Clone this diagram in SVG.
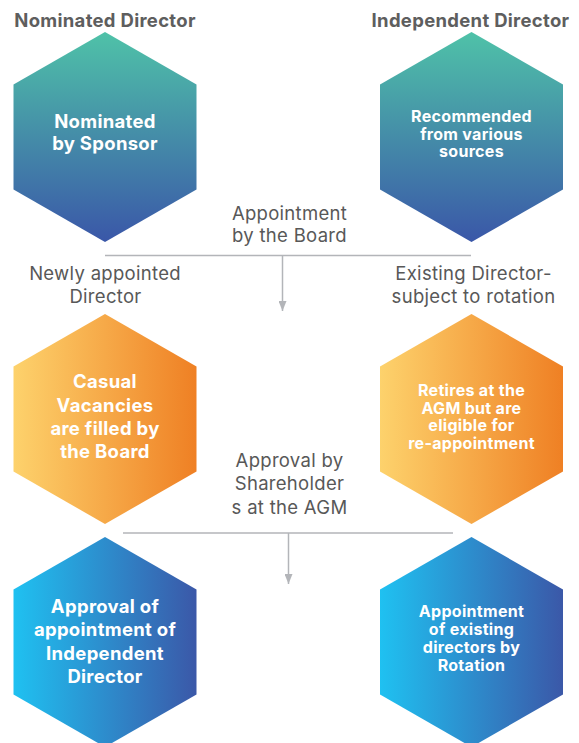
<svg xmlns="http://www.w3.org/2000/svg" width="579" height="743" viewBox="0 0 579 743">
  <defs>
    <linearGradient id="gTeal" x1="0" y1="0" x2="0" y2="1">
      <stop offset="0" stop-color="#4fc2a8"/>
      <stop offset="1" stop-color="#3a57a8"/>
    </linearGradient>
    <linearGradient id="gOrange" x1="0" y1="0" x2="1" y2="0">
      <stop offset="0" stop-color="#fdd26c"/>
      <stop offset="1" stop-color="#ef8024"/>
    </linearGradient>
    <linearGradient id="gBlue" x1="0" y1="0" x2="1" y2="0">
      <stop offset="0" stop-color="#1fc1f1"/>
      <stop offset="1" stop-color="#3b58a8"/>
    </linearGradient>
    <marker id="arrow" markerUnits="userSpaceOnUse" viewBox="0 0 10 8" refX="10" refY="4" markerWidth="10" markerHeight="8" orient="auto">
      <path d="M0,0 L10,4 L0,8 z" fill="#b3b5b9"/>
    </marker>
  </defs>
  <style>
    .title { font-family: Inter, "Liberation Sans", sans-serif; font-weight: 700; font-size: 18.5px; letter-spacing: 0.3px; fill: #5e5e5e; text-anchor: middle; }
    .label { font-family: Inter, "Liberation Sans", sans-serif; font-weight: 400; font-size: 18.5px; letter-spacing: 0.3px; fill: #585858; text-anchor: middle; }
    .big { font-family: Inter, "Liberation Sans", sans-serif; font-weight: 700; font-size: 18.5px; letter-spacing: 0.3px; fill: #ffffff; text-anchor: middle; }
    .small { font-family: Inter, "Liberation Sans", sans-serif; font-weight: 700; font-size: 16px; letter-spacing: 0.3px; fill: #ffffff; text-anchor: middle; }
    .conn { fill: none; stroke: #b3b5b9; stroke-width: 1.5; }
  </style>

  <g id="titles">
    <text class="title" x="105" y="27">Nominated Director</text>
    <text class="title" x="470.5" y="27">Independent Director</text>
  </g>

  <g id="node-nominated">
    <path d="M105,32 L196.5,84.5 L196.5,189.5 L105,242 L13.5,189.5 L13.5,84.5 Z" fill="url(#gTeal)"/>
    <text class="big" x="105" y="128">Nominated</text>
    <text class="big" x="105" y="150">by Sponsor</text>
  </g>

  <g id="node-recommended">
    <path d="M471.5,32 L563,84.5 L563,189.5 L471.5,242 L380,189.5 L380,84.5 Z" fill="url(#gTeal)"/>
    <text class="small" x="471.5" y="121.5">Recommended</text>
    <text class="small" x="471.5" y="139.5">from various</text>
    <text class="small" x="471.5" y="157">sources</text>
  </g>

  <g id="node-casual">
    <path d="M105,314 L196.5,366.5 L196.5,471.5 L105,524 L13.5,471.5 L13.5,366.5 Z" fill="url(#gOrange)"/>
    <text class="big" x="105" y="388">Casual</text>
    <text class="big" x="105" y="411.5">Vacancies</text>
    <text class="big" x="105" y="435">are filled by</text>
    <text class="big" x="105" y="458">the Board</text>
  </g>

  <g id="node-retires">
    <path d="M471.5,314 L563,366.5 L563,471.5 L471.5,524 L380,471.5 L380,366.5 Z" fill="url(#gOrange)"/>
    <text class="small" x="471.5" y="396">Retires at the</text>
    <text class="small" x="471.5" y="413.5">AGM but are</text>
    <text class="small" x="471.5" y="431">eligible for</text>
    <text class="small" x="471.5" y="448.5">re-appointment</text>
  </g>

  <g id="node-approval-independent">
    <path d="M105,537 L196.5,589.5 L196.5,694.5 L105,747 L13.5,694.5 L13.5,589.5 Z" fill="url(#gBlue)"/>
    <text class="big" x="105" y="613">Approval of</text>
    <text class="big" x="105" y="636">appointment of</text>
    <text class="big" x="105" y="659.5">Independent</text>
    <text class="big" x="105" y="683">Director</text>
  </g>

  <g id="node-rotation">
    <path d="M471.5,537 L563,589.5 L563,694.5 L471.5,747 L380,694.5 L380,589.5 Z" fill="url(#gBlue)"/>
    <text class="small" x="471.5" y="617">Appointment</text>
    <text class="small" x="471.5" y="635">of existing</text>
    <text class="small" x="471.5" y="653">directors by</text>
    <text class="small" x="471.5" y="671">Rotation</text>
  </g>

  <g id="connectors">
    <path class="conn" d="M105,255.5 H471"/>
    <path class="conn" d="M282.5,255.5 V311" marker-end="url(#arrow)"/>
    <path class="conn" d="M123,533 H453"/>
    <path class="conn" d="M288.5,533 V584" marker-end="url(#arrow)"/>
  </g>

  <g id="labels">
    <text class="label" x="289.5" y="219.5">Appointment</text>
    <text class="label" x="289.5" y="242">by the Board</text>
    <text class="label" x="105" y="280">Newly appointed</text>
    <text class="label" x="105.5" y="303">Director</text>
    <text class="label" x="473.5" y="280">Existing Director-</text>
    <text class="label" x="473.5" y="303">subject to rotation</text>
    <text class="label" x="289.5" y="467">Approval by</text>
    <text class="label" x="289.5" y="490">Shareholder</text>
    <text class="label" x="289.5" y="513.5">s at the AGM</text>
  </g>
</svg>
